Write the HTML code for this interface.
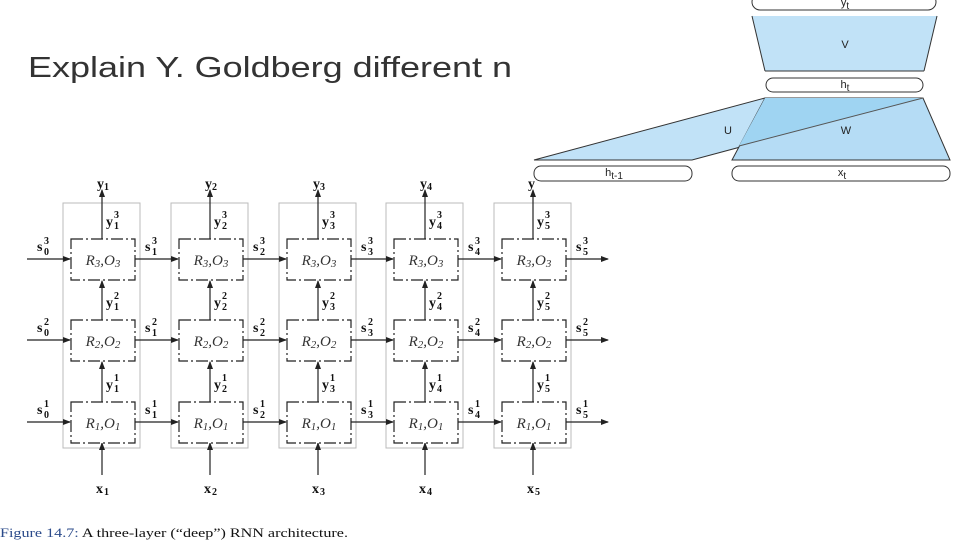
<!DOCTYPE html>
<html><head><meta charset="utf-8"><style>
body{margin:0;background:#fff;width:960px;height:540px;overflow:hidden}
svg{display:block}
.b{font-family:"Liberation Serif",serif;font-weight:bold;font-size:14px;fill:#111}
.s{font-family:"Liberation Serif",serif;font-weight:bold;font-size:10px;fill:#111}
.r{font-family:"Liberation Serif",serif;font-style:italic;font-size:15px;fill:#333;text-anchor:middle}
.r tspan.u{font-size:11px}
.g{fill:none;stroke:#bbb;stroke-width:1}
.d{fill:#fff;stroke:#222;stroke-width:1.2;stroke-dasharray:12 3 2 3}
.l{stroke:#222;stroke-width:1.2;fill:none}
.h{font-family:"Liberation Sans",sans-serif;font-size:11px;fill:#222;text-anchor:middle}
.h tspan{font-size:10px}
</style></head><body>
<svg width="960" height="540" viewBox="0 0 960 540">
<defs><marker id="a" markerWidth="8" markerHeight="6" refX="7" refY="3" orient="auto" markerUnits="userSpaceOnUse"><path d="M0,0 L8,3 L0,6 z" fill="#222"/></marker></defs>
<text x="28" y="77" font-family="Liberation Sans, sans-serif" font-size="29" fill="#333" textLength="484" lengthAdjust="spacingAndGlyphs">Explain Y. Goldberg different n</text>

<rect class="g" x="63" y="203" width="77" height="245"/>
<rect class="g" x="171" y="203" width="77" height="245"/>
<rect class="g" x="279" y="203" width="77" height="245"/>
<rect class="g" x="386" y="203" width="77" height="245"/>
<rect class="g" x="494" y="203" width="77" height="245"/>

<g class="l" marker-end="url(#a)">
<line x1="102" y1="239" x2="102" y2="190"/><line x1="102" y1="320" x2="102" y2="281"/><line x1="102" y1="402" x2="102" y2="362"/><line x1="102" y1="475" x2="102" y2="443"/>
<line x1="210" y1="239" x2="210" y2="190"/><line x1="210" y1="320" x2="210" y2="281"/><line x1="210" y1="402" x2="210" y2="362"/><line x1="210" y1="475" x2="210" y2="443"/>
<line x1="318" y1="239" x2="318" y2="190"/><line x1="318" y1="320" x2="318" y2="281"/><line x1="318" y1="402" x2="318" y2="362"/><line x1="318" y1="475" x2="318" y2="443"/>
<line x1="425" y1="239" x2="425" y2="190"/><line x1="425" y1="320" x2="425" y2="281"/><line x1="425" y1="402" x2="425" y2="362"/><line x1="425" y1="475" x2="425" y2="443"/>
<line x1="533" y1="239" x2="533" y2="190"/><line x1="533" y1="320" x2="533" y2="281"/><line x1="533" y1="402" x2="533" y2="362"/><line x1="533" y1="475" x2="533" y2="443"/>
<line x1="27" y1="259" x2="70" y2="259"/><line x1="135" y1="259" x2="178" y2="259"/><line x1="243" y1="259" x2="286" y2="259"/><line x1="351" y1="259" x2="393" y2="259"/><line x1="458" y1="259" x2="501" y2="259"/><line x1="566" y1="259" x2="608" y2="259"/>
<line x1="27" y1="340" x2="70" y2="340"/><line x1="135" y1="340" x2="178" y2="340"/><line x1="243" y1="340" x2="286" y2="340"/><line x1="351" y1="340" x2="393" y2="340"/><line x1="458" y1="340" x2="501" y2="340"/><line x1="566" y1="340" x2="608" y2="340"/>
<line x1="27" y1="422" x2="70" y2="422"/><line x1="135" y1="422" x2="178" y2="422"/><line x1="243" y1="422" x2="286" y2="422"/><line x1="351" y1="422" x2="393" y2="422"/><line x1="458" y1="422" x2="501" y2="422"/><line x1="566" y1="422" x2="608" y2="422"/>
</g>

<g>
<rect class="d" x="71" y="239" width="64" height="41"/><rect class="d" x="71" y="320" width="64" height="41"/><rect class="d" x="71" y="402" width="64" height="41"/>
<rect class="d" x="179" y="239" width="64" height="41"/><rect class="d" x="179" y="320" width="64" height="41"/><rect class="d" x="179" y="402" width="64" height="41"/>
<rect class="d" x="287" y="239" width="64" height="41"/><rect class="d" x="287" y="320" width="64" height="41"/><rect class="d" x="287" y="402" width="64" height="41"/>
<rect class="d" x="394" y="239" width="64" height="41"/><rect class="d" x="394" y="320" width="64" height="41"/><rect class="d" x="394" y="402" width="64" height="41"/>
<rect class="d" x="502" y="239" width="64" height="41"/><rect class="d" x="502" y="320" width="64" height="41"/><rect class="d" x="502" y="402" width="64" height="41"/>
</g>
<g class="r">
<text x="103" y="265">R<tspan class="u" dy="2">3</tspan><tspan dy="-2">,O</tspan><tspan class="u" dy="2">3</tspan></text>
<text x="103" y="346">R<tspan class="u" dy="2">2</tspan><tspan dy="-2">,O</tspan><tspan class="u" dy="2">2</tspan></text>
<text x="103" y="428">R<tspan class="u" dy="2">1</tspan><tspan dy="-2">,O</tspan><tspan class="u" dy="2">1</tspan></text>
<text x="211" y="265">R<tspan class="u" dy="2">3</tspan><tspan dy="-2">,O</tspan><tspan class="u" dy="2">3</tspan></text>
<text x="211" y="346">R<tspan class="u" dy="2">2</tspan><tspan dy="-2">,O</tspan><tspan class="u" dy="2">2</tspan></text>
<text x="211" y="428">R<tspan class="u" dy="2">1</tspan><tspan dy="-2">,O</tspan><tspan class="u" dy="2">1</tspan></text>
<text x="319" y="265">R<tspan class="u" dy="2">3</tspan><tspan dy="-2">,O</tspan><tspan class="u" dy="2">3</tspan></text>
<text x="319" y="346">R<tspan class="u" dy="2">2</tspan><tspan dy="-2">,O</tspan><tspan class="u" dy="2">2</tspan></text>
<text x="319" y="428">R<tspan class="u" dy="2">1</tspan><tspan dy="-2">,O</tspan><tspan class="u" dy="2">1</tspan></text>
<text x="426" y="265">R<tspan class="u" dy="2">3</tspan><tspan dy="-2">,O</tspan><tspan class="u" dy="2">3</tspan></text>
<text x="426" y="346">R<tspan class="u" dy="2">2</tspan><tspan dy="-2">,O</tspan><tspan class="u" dy="2">2</tspan></text>
<text x="426" y="428">R<tspan class="u" dy="2">1</tspan><tspan dy="-2">,O</tspan><tspan class="u" dy="2">1</tspan></text>
<text x="534" y="265">R<tspan class="u" dy="2">3</tspan><tspan dy="-2">,O</tspan><tspan class="u" dy="2">3</tspan></text>
<text x="534" y="346">R<tspan class="u" dy="2">2</tspan><tspan dy="-2">,O</tspan><tspan class="u" dy="2">2</tspan></text>
<text x="534" y="428">R<tspan class="u" dy="2">1</tspan><tspan dy="-2">,O</tspan><tspan class="u" dy="2">1</tspan></text>
</g>

<g class="b">
<text x="97" y="188">y</text><text x="205" y="188">y</text><text x="313" y="188">y</text><text x="420" y="188">y</text><text x="528" y="188">y</text>
<text x="96" y="493">x</text><text x="204" y="493">x</text><text x="312" y="493">x</text><text x="419" y="493">x</text><text x="527" y="493">x</text>
</g>
<g class="s">
<text x="104" y="190">1</text><text x="212" y="190">2</text><text x="320" y="190">3</text><text x="427" y="190">4</text>
<text x="104" y="495">1</text><text x="212" y="495">2</text><text x="320" y="495">3</text><text x="427" y="495">4</text><text x="535" y="495">5</text>
</g>

<g class="b">
<text x="106" y="226">y</text><text x="214" y="226">y</text><text x="322" y="226">y</text><text x="429" y="226">y</text><text x="537" y="226">y</text>
<text x="106" y="307">y</text><text x="214" y="307">y</text><text x="322" y="307">y</text><text x="429" y="307">y</text><text x="537" y="307">y</text>
<text x="106" y="389">y</text><text x="214" y="389">y</text><text x="322" y="389">y</text><text x="429" y="389">y</text><text x="537" y="389">y</text>
</g>
<g class="s">
<text x="114" y="218">3</text><text x="222" y="218">3</text><text x="330" y="218">3</text><text x="437" y="218">3</text><text x="545" y="218">3</text>
<text x="114" y="229">1</text><text x="222" y="229">2</text><text x="330" y="229">3</text><text x="437" y="229">4</text><text x="545" y="229">5</text>
<text x="114" y="299">2</text><text x="222" y="299">2</text><text x="330" y="299">2</text><text x="437" y="299">2</text><text x="545" y="299">2</text>
<text x="114" y="310">1</text><text x="222" y="310">2</text><text x="330" y="310">3</text><text x="437" y="310">4</text><text x="545" y="310">5</text>
<text x="114" y="381">1</text><text x="222" y="381">1</text><text x="330" y="381">1</text><text x="437" y="381">1</text><text x="545" y="381">1</text>
<text x="114" y="392">1</text><text x="222" y="392">2</text><text x="330" y="392">3</text><text x="437" y="392">4</text><text x="545" y="392">5</text>
</g>

<g class="b">
<text x="37" y="251">s</text><text x="145" y="251">s</text><text x="253" y="251">s</text><text x="361" y="251">s</text><text x="468" y="251">s</text><text x="576" y="251">s</text>
<text x="37" y="332">s</text><text x="145" y="332">s</text><text x="253" y="332">s</text><text x="361" y="332">s</text><text x="468" y="332">s</text><text x="576" y="332">s</text>
<text x="37" y="414">s</text><text x="145" y="414">s</text><text x="253" y="414">s</text><text x="361" y="414">s</text><text x="468" y="414">s</text><text x="576" y="414">s</text>
</g>
<g class="s">
<text x="44" y="244">3</text><text x="152" y="244">3</text><text x="260" y="244">3</text><text x="368" y="244">3</text><text x="475" y="244">3</text><text x="583" y="244">3</text>
<text x="44" y="255">0</text><text x="152" y="255">1</text><text x="260" y="255">2</text><text x="368" y="255">3</text><text x="475" y="255">4</text><text x="583" y="255">5</text>
<text x="44" y="325">2</text><text x="152" y="325">2</text><text x="260" y="325">2</text><text x="368" y="325">2</text><text x="475" y="325">2</text><text x="583" y="325">2</text>
<text x="44" y="336">0</text><text x="152" y="336">1</text><text x="260" y="336">2</text><text x="368" y="336">3</text><text x="475" y="336">4</text><text x="583" y="336">5</text>
<text x="44" y="407">1</text><text x="152" y="407">1</text><text x="260" y="407">1</text><text x="368" y="407">1</text><text x="475" y="407">1</text><text x="583" y="407">1</text>
<text x="44" y="418">0</text><text x="152" y="418">1</text><text x="260" y="418">2</text><text x="368" y="418">3</text><text x="475" y="418">4</text><text x="583" y="418">5</text>
</g>

<text x="0" y="537" font-family="Liberation Serif, serif" font-size="13" textLength="348" lengthAdjust="spacingAndGlyphs"><tspan fill="#2a4a8a">Figure 14.7:</tspan><tspan fill="#111"> A three-layer (“deep”) RNN architecture.</tspan></text>

<g stroke="#333" stroke-width="1">
<rect x="752" y="-6" width="184" height="16" rx="8" fill="#fff"/>
<polygon points="752,16 937,16 924,71 765,71" fill="#c1e2f7" stroke="none"/>
<line x1="752" y1="16" x2="765" y2="71"/><line x1="937" y1="16" x2="924" y2="71"/><line x1="765" y1="71" x2="924" y2="71"/>
<rect x="766" y="78" width="157" height="14" rx="7" fill="#fff"/>
<polygon points="534,160 765,98 923,98 692,160" fill="#c1e2f7" stroke="#333"/>
<polygon points="765,98 923,98 950,160 732,160" fill="#b5dcf5" stroke="#333"/>
<polygon points="765,98 923,98 739,146" fill="#9fd4f2" stroke="none"/>
<line x1="923" y1="98" x2="739" y2="146" stroke="#555"/>
<rect x="534" y="166" width="158" height="15" rx="7" fill="#fff"/>
<rect x="732" y="166" width="218" height="15" rx="7" fill="#fff"/>
</g>
<g class="h">
<text x="845" y="6">y<tspan dy="3">t</tspan></text>
<text x="845" y="48">V</text>
<text x="845" y="88">h<tspan dy="3">t</tspan></text>
<text x="728" y="134">U</text>
<text x="846" y="134">W</text>
<text x="614" y="176">h<tspan dy="3">t-1</tspan></text>
<text x="842" y="176">x<tspan dy="3">t</tspan></text>
</g>
</svg>
</body></html>
